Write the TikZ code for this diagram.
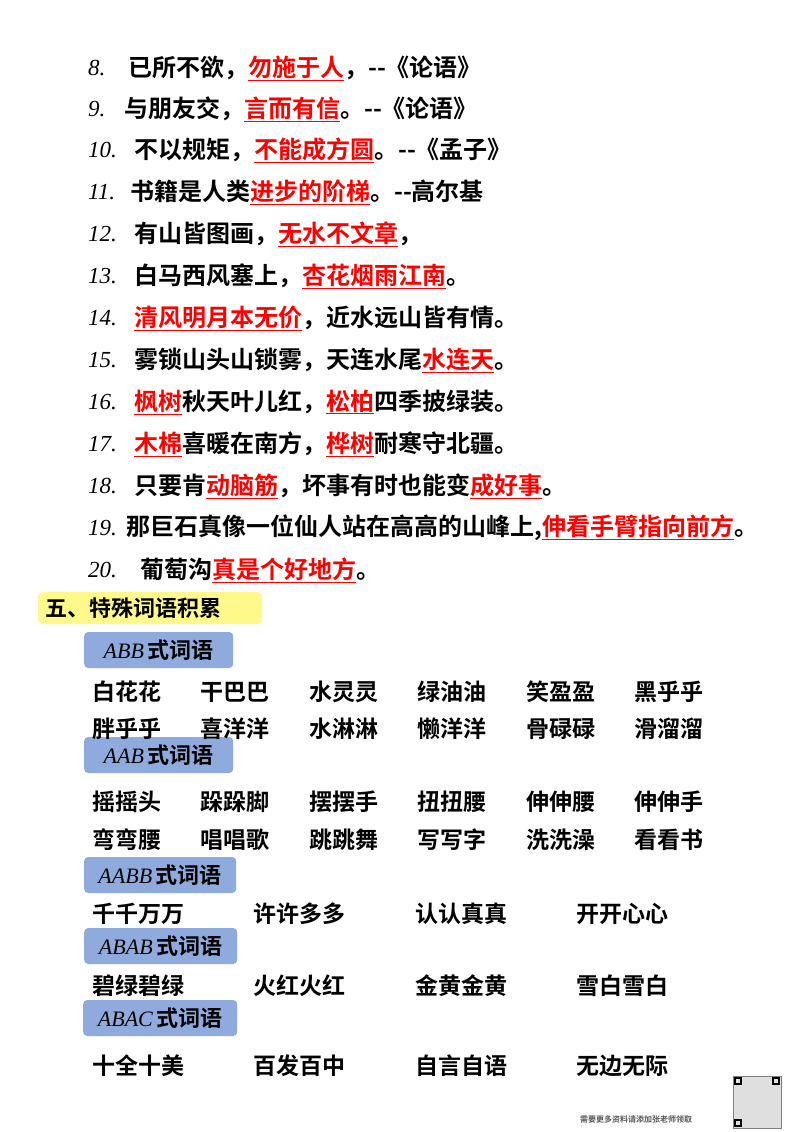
\documentclass[tikz,border=0pt]{standalone}
\usepackage{fontspec}
\setmainfont{Noto Sans CJK SC Bold}
\newfontfamily\numfont{Liberation Serif}
\newcommand{\rd}[1]{\textcolor{red}{\underline{#1}}}
\begin{document}
\begin{tikzpicture}[x=1pt,y=-1pt,
  ln/.style={anchor=west,inner sep=0pt,font=\fontsize{24}{24}\selectfont},
  num/.style={anchor=west,inner sep=0pt,font=\fontsize{23}{23}\selectfont\numfont\itshape},
  wd/.style={anchor=west,inner sep=0pt,font=\fontsize{23}{23}\selectfont},
  bluebox/.style={rounded corners=4pt,anchor=west,minimum height=36pt,inner xsep=10pt,font=\fontsize{22}{22}\selectfont}]
\definecolor{bb}{HTML}{8FAADC}
\useasboundingbox (0,0) rectangle (800,1132);
\fill[white] (0,0) rectangle (800,1132);
\foreach \n/\y in {8/68,9/109,10/150,11/192,12/234,13/276,14/318,15/360,16/402,17/444,18/486,20/570}
  \node[num] (n\n) at (88,\y) {\n.};
\node[num] (n19) at (88,528) {19.};
\node[ln] (l8) at (128,68) {已所不欲，\rd{勿施于人}，-{}-《论语》};
\node[ln] (l9) at (124,109) {与朋友交，\rd{言而有信}。-{}-《论语》};
\node[ln] (l10) at (134,150) {不以规矩，\rd{不能成方圆}。-{}-《孟子》};
\node[ln] (l11) at (130,192) {书籍是人类\rd{进步的阶梯}。-{}-高尔基};
\node[ln] (l12) at (134,234) {有山皆图画，\rd{无水不文章}，};
\node[ln] (l13) at (134,276) {白马西风塞上，\rd{杏花烟雨江南}。};
\node[ln] (l14) at (134,318) {\rd{清风明月本无价}，近水远山皆有情。};
\node[ln] (l15) at (134,360) {雾锁山头山锁雾，天连水尾\rd{水连天}。};
\node[ln] (l16) at (134,402) {\rd{枫树}秋天叶儿红，\rd{松柏}四季披绿装。};
\node[ln] (l17) at (134,444) {\rd{木棉}喜暖在南方，\rd{桦树}耐寒守北疆。};
\node[ln] (l18) at (134,486) {只要肯\rd{动脑筋}，坏事有时也能变\rd{成好事}。};
\node[ln] (l19) at (126,528) {那巨石真像一位仙人站在高高的山峰上,\rd{伸看手臂指向前方}。};
\node[ln] (l20) at (140,570) {葡萄沟\rd{真是个好地方}。};
\node[fill=yellow!45,rounded corners=5pt,anchor=west,minimum width=224pt,minimum height=32pt,inner xsep=7pt,font=\fontsize{22}{22}\selectfont,text width=210pt] (h5) at (38,608) {五、特殊词语积累};
\node[bluebox,fill=bb,minimum width=149pt] (bABB) at (84,650) {\numfont\itshape ABB\,\normalfont 式词语};
\node[bluebox,fill=bb,minimum width=149pt] (bAAB) at (84,755) {\numfont\itshape AAB\,\normalfont 式词语};
\node[bluebox,fill=bb,minimum width=152pt] (bAABB) at (84,875) {\numfont\itshape AABB\,\normalfont 式词语};
\node[bluebox,fill=bb,minimum width=153pt] (bABAB) at (84,946) {\numfont\itshape ABAB\,\normalfont 式词语};
\node[bluebox,fill=bb,minimum width=154pt] (bABAC) at (83,1018) {\numfont\itshape ABAC\,\normalfont 式词语};
\foreach \w [count=\i from 0] in {白花花,干巴巴,水灵灵,绿油油,笑盈盈,黑乎乎}
  \node[wd] (a1\i) at ({92+\i*108.5},692) {\w};
\foreach \w [count=\i from 0] in {胖乎乎,喜洋洋,水淋淋,懒洋洋,骨碌碌,滑溜溜}
  \node[wd] (a2\i) at ({92+\i*108.5},729) {\w};
\foreach \w [count=\i from 0] in {摇摇头,跺跺脚,摆摆手,扭扭腰,伸伸腰,伸伸手}
  \node[wd] (b1\i) at ({92+\i*108.5},802) {\w};
\foreach \w [count=\i from 0] in {弯弯腰,唱唱歌,跳跳舞,写写字,洗洗澡,看看书}
  \node[wd] (b2\i) at ({92+\i*108.5},840) {\w};
\foreach \w [count=\i from 0] in {千千万万,许许多多,认认真真,开开心心}
  \node[wd] (c\i) at ({92+\i*161.5},914) {\w};
\foreach \w [count=\i from 0] in {碧绿碧绿,火红火红,金黄金黄,雪白雪白}
  \node[wd] (d\i) at ({92+\i*161.5},986) {\w};
\foreach \w [count=\i from 0] in {十全十美,百发百中,自言自语,无边无际}
  \node[wd] (e\i) at ({92+\i*161.5},1066) {\w};
\node[anchor=west,inner sep=0pt,font=\fontsize{8}{8}\selectfont,text=gray!70!black] (ft) at (580,1119) {需要更多资料请添加张老师领取};
\draw[gray,fill=gray!25] (733,1076) rectangle (781,1128);
\foreach \x/\y in {734/1077,772/1077,734/1119}
  \draw[black,line width=1.5pt] (\x+1,\y+1) rectangle (\x+7,\y+7);
\end{tikzpicture}
\end{document}
